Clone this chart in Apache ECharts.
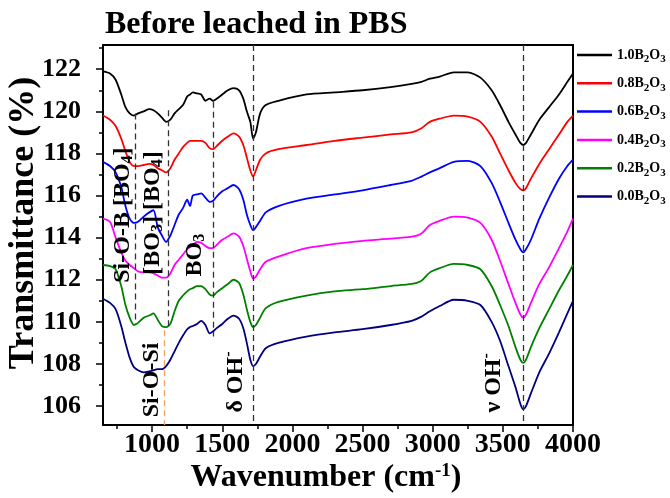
<!DOCTYPE html>
<html><head><meta charset="utf-8">
<script src="https://cdn.jsdelivr.net/npm/echarts@6/dist/echarts.min.js"></script>
<style>html,body{margin:0;padding:0;background:#fff}#c{width:670px;height:498px}</style>
</head><body><div id="c"></div>
<script>
// ---- data ----
const wavenumbers = [650,700,740,780,810,840,870,900,940,980,1010,1040,1070,1100,1130,1160,1190,1220,1250,1270,1290,1320,1350,1380,1410,1435,1460,1500,1540,1580,1620,1650,1675,1700,1720,1740,1770,1810,1900,2100,2300,2500,2700,2850,2920,2980,3050,3150,3250,3340,3420,3480,3540,3590,3625,3645,3665,3700,3760,3830,3900,3960,4000];
const b10 = [121.9,121.8,121.5,120.8,120.2,119.9,119.8,119.9,120.0,120.1,120.05,119.9,119.7,119.5,119.6,119.9,120.1,120.3,120.7,120.8,120.9,120.85,120.8,120.5,120.6,120.5,120.6,120.8,121.0,121.1,121.0,120.6,120.0,119.5,118.7,119.0,119.9,120.3,120.5,120.8,120.9,121.0,121.15,121.3,121.4,121.55,121.65,121.85,121.85,121.6,121.0,120.3,119.5,118.9,118.5,118.4,118.5,118.9,119.6,120.2,120.8,121.4,121.8];
const b08 = [119.8,119.6,119.3,118.7,118.1,117.6,117.4,117.4,117.45,117.5,117.45,117.3,117.2,117.1,117.3,117.7,118.0,118.3,118.5,118.6,118.6,118.6,118.6,118.5,118.25,118.2,118.35,118.6,118.8,118.95,118.8,118.4,117.8,117.2,116.9,117.2,117.7,118.0,118.2,118.4,118.6,118.75,118.9,119.0,119.2,119.5,119.65,119.8,119.75,119.5,118.8,118.0,117.2,116.6,116.3,116.25,116.35,116.8,117.5,118.2,118.9,119.5,119.8];
const b06 = [117.6,117.4,117.1,116.4,115.5,114.9,114.7,114.75,115.0,115.2,115.3,114.5,114.1,113.8,114.1,114.6,115.1,115.4,115.8,115.5,116.0,116.05,116.1,115.9,115.7,115.75,115.95,116.2,116.35,116.5,116.3,115.8,115.1,114.6,114.35,114.5,114.8,115.2,115.5,115.85,116.05,116.25,116.5,116.7,116.9,117.1,117.3,117.6,117.65,117.4,116.6,115.7,114.7,113.9,113.45,113.3,113.45,113.9,114.9,115.9,116.8,117.4,117.7];
const b04 = [114.9,114.75,114.0,113.3,112.9,112.7,112.55,112.4,112.35,112.35,112.3,112.2,112.1,112.1,112.3,112.7,112.95,113.2,113.45,113.55,113.65,113.8,113.75,113.6,113.5,113.5,113.65,113.9,114.05,114.2,114.05,113.6,113.0,112.4,112.05,112.15,112.5,112.85,113.1,113.5,113.7,113.85,113.95,114.05,114.2,114.6,114.8,115.0,114.95,114.7,113.9,112.9,111.8,110.9,110.35,110.2,110.35,110.9,111.8,112.6,113.5,114.3,114.9];
const b02 = [112.7,112.65,112.5,111.7,110.8,110.2,109.85,109.95,110.2,110.3,110.4,110.1,109.8,109.75,109.9,110.5,111.0,111.25,111.45,111.55,111.6,111.7,111.7,111.55,111.3,111.25,111.4,111.6,111.8,112.0,111.85,111.3,110.6,110.0,109.75,109.85,110.2,110.65,110.95,111.25,111.45,111.55,111.7,111.8,111.95,112.35,112.55,112.75,112.7,112.5,111.7,110.8,109.8,108.8,108.2,108.05,108.2,108.8,109.7,110.6,111.5,112.2,112.7];
const b00 = [111.1,110.9,110.6,109.8,109.0,108.3,107.85,107.7,107.6,107.65,107.7,107.75,107.75,107.9,108.2,108.6,109.0,109.35,109.65,109.75,109.8,109.9,110.05,109.85,109.45,109.55,109.7,109.9,110.15,110.3,110.15,109.7,109.0,108.2,107.9,108.0,108.35,108.75,109.0,109.3,109.5,109.65,109.85,110.05,110.25,110.5,110.75,111.05,111.0,110.8,110.0,109.1,107.9,106.9,106.1,105.85,106.0,106.6,107.6,108.5,109.5,110.4,111.0];
const seriesNames = ['1.0B2O3','0.8B2O3','0.6B2O3','0.4B2O3','0.2B2O3','0.0B2O3'];
const seriesValues = [b10,b08,b06,b04,b02,b00];
const xMajorTicks = [1000,1500,2000,2500,3000,3500,4000];
const xMinorTicks = [750,1250,1750,2250,2750,3250,3750];
const yMajorTicks = [106,108,110,112,114,116,118,120,122];
const yMinorTicks = [107,109,111,113,115,117,119,121,123];

// ---- styling ----
const FONT = '"Liberation Serif","Times New Roman",serif';
const colors = ['#000000','#ff0000','#0000ff','#ff00ff','#008000','#000080'];
const dashGrey = {color:'#333333', width:1.3, type:[6,4]};

const series = seriesNames.map((name, k) => ({
  name, type:'line', symbol:'none', showSymbol:false, smooth:0.25,
  xAxisIndex:0, yAxisIndex:0,
  lineStyle:{width:1.8, color:colors[k]}, itemStyle:{color:colors[k]},
  data: wavenumbers.map((w, i) => [w, seriesValues[k][i]])
}));

const annRich = {
  sub:{fontSize:16, fontWeight:'bold', fontFamily:FONT, color:'#000', lineHeight:16, padding:[10,0,0,0], verticalAlign:'top'},
  sup:{fontSize:16, fontWeight:'bold', fontFamily:FONT, color:'#000', lineHeight:16, padding:[0,0,12,0], verticalAlign:'bottom'},
  m:{fontSize:24, fontWeight:'bold', fontFamily:FONT, color:'#000', lineHeight:26}
};
function ann(w, v, text){
  return {coord:[w, v], label:{formatter:text}};
}
series[5].markLine = {
  silent:true, symbol:'none', animation:false, label:{show:false},
  lineStyle:dashGrey,
  data:[
    [{coord:[877,119.9]},{coord:[877,109.9]}],
    [{coord:[1114,120.05]},{coord:[1114,109.8]}],
    [{coord:[1435,120.45]},{coord:[1435,109.3]}],
    [{coord:[1720,123.15]},{coord:[1720,105.1]}],
    [{coord:[3642,123.15]},{coord:[3642,105.1]}],
    [{coord:[1090,109.6], lineStyle:{color:'#f0a060', width:1.3, type:[6,4]}},{coord:[1090,105.1]}]
  ]
};
series[5].markPoint = {
  silent:true, symbol:'rect', symbolSize:0, animation:false,
  label:{show:true, position:'inside', rotate:90, align:'center', verticalAlign:'middle', rich:annRich, color:'#000'},
  data:[
    ann(793, 115.07, '{m|Si-O-B [BO}{sub|4}{m|]}'),
    ann(1006, 115.17, '{m|[BO}{sub|3}{m|] [BO}{sub|4}{m|]}'),
    ann(1306, 113.17, '{m|BO}{sub|3}'),
    ann(999, 107.24, '{m|Si-O-Si}'),
    ann(1598, 107.14, '{m|δ OH}{sup|-}'),
    ann(3437, 107.1, '{m|ν OH}{sup|-}')
  ]
};

const option = {
  animation:false,
  backgroundColor:'#fff',
  title:{text:'Before leached in PBS', left:105, top:9, padding:0,
    textStyle:{fontFamily:FONT, fontWeight:'bold', fontSize:32, color:'#000'}},
  legend:{
    data:seriesNames, orient:'vertical', left:577, top:48, padding:0,
    icon:'rect', itemWidth:35, itemHeight:2.5, itemGap:11.3,
    formatter: n => n.replace('B2O3','B{s|2}O{s|3}'),
    textStyle:{fontFamily:FONT, fontWeight:'bold', fontSize:14, color:'#000',
      rich:{s:{fontFamily:FONT, fontWeight:'bold', fontSize:11, color:'#000', lineHeight:11, padding:[6,0,0,0], verticalAlign:'top'}}}
  },
  grid:{left:103, right:97, top:45, bottom:73, show:true, borderColor:'#000', borderWidth:2, backgroundColor:'transparent'},
  xAxis:[
    {type:'value', min:650, max:4000, position:'bottom',
      axisLine:{show:true, onZero:false, lineStyle:{color:'#000', width:2}},
      axisTick:{show:true, customValues:xMajorTicks, length:7, lineStyle:{color:'#000', width:1.5}},
      axisLabel:{show:true, customValues:xMajorTicks, margin:6, formatter:v => String(v), fontFamily:FONT, fontWeight:'bold', fontSize:28, color:'#000', showMaxLabel:true},
      splitLine:{show:false}},
    {type:'value', min:650, max:4000, position:'bottom',
      axisLine:{show:false, onZero:false},
      axisTick:{show:true, customValues:xMinorTicks, length:4, lineStyle:{color:'#000', width:1.5}},
      axisLabel:{show:false}, splitLine:{show:false}}
  ],
  yAxis:[
    {type:'value', min:105.1, max:123.15, position:'left',
      axisLine:{show:true, onZero:false, lineStyle:{color:'#000', width:2}},
      axisTick:{show:true, customValues:yMajorTicks, length:7, lineStyle:{color:'#000', width:1.5}},
      axisLabel:{show:true, customValues:yMajorTicks, margin:22, formatter:v => String(v), fontFamily:FONT, fontWeight:'bold', fontSize:26, color:'#000'},
      splitLine:{show:false}},
    {type:'value', min:105.1, max:123.15, position:'left',
      axisLine:{show:false, onZero:false},
      axisTick:{show:true, customValues:yMinorTicks, length:4, lineStyle:{color:'#000', width:1.5}},
      axisLabel:{show:false}, splitLine:{show:false}}
  ],
  graphic:[
    {type:'text', x:24, y:223, rotation:Math.PI/2,
      style:{text:'Transmittance (%)', align:'center', verticalAlign:'middle', fill:'#000',
        font:'bold 36px "Liberation Serif","Times New Roman",serif'}},
    {type:'text', x:326, y:478,
      style:{text:'{m|Wavenumber (cm}{sup|-1}{m|)}', align:'center', verticalAlign:'middle', fill:'#000',
        rich:{
          m:{fontFamily:FONT, fontWeight:'bold', fontSize:32, fill:'#000', lineHeight:36},
          sup:{fontFamily:FONT, fontWeight:'bold', fontSize:19, fill:'#000', lineHeight:19, padding:[0,0,15,0], verticalAlign:'bottom'}
        }}}
  ],
  series
};
const chart = echarts.init(document.getElementById('c'), null, {renderer:'canvas'});
chart.setOption(option);
</script></body></html>
